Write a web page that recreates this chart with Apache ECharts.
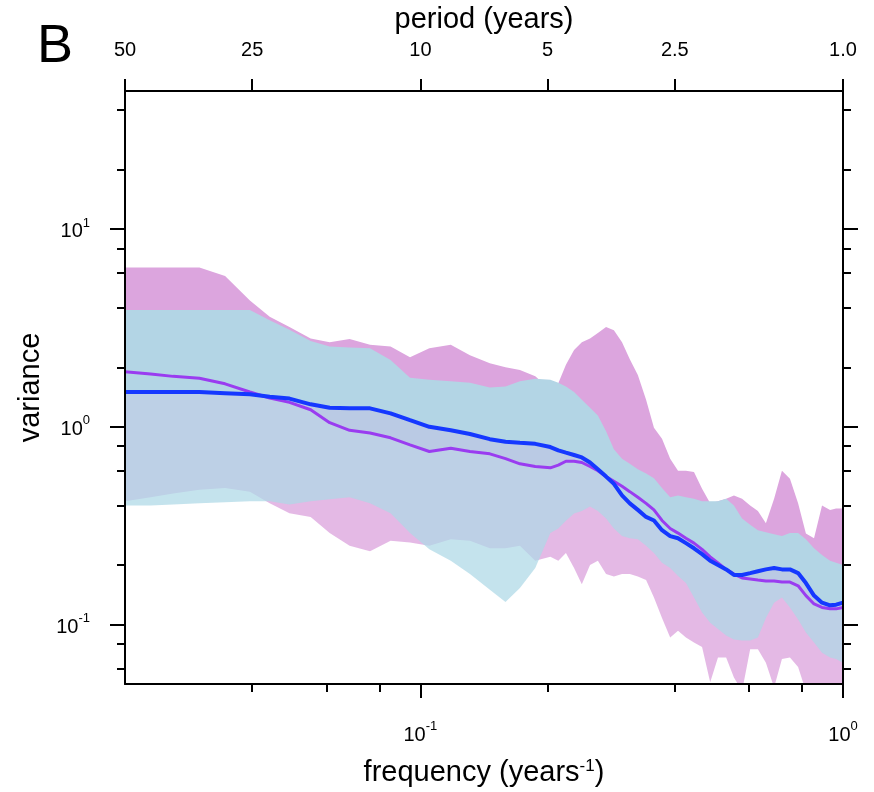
<!DOCTYPE html>
<html><head><meta charset="utf-8">
<script src="https://cdn.jsdelivr.net/npm/echarts@6/dist/echarts.min.js"></script>
<style>html,body{margin:0;padding:0;background:#fff}#c{width:874px;height:792px}</style>
</head><body><div id="c"></div>
<script>
// frequency (years^-1)
const freq = [0.02, 0.023, 0.026, 0.03, 0.0345, 0.0395, 0.044, 0.049, 0.055, 0.061, 0.068, 0.076, 0.085, 0.0945, 0.105, 0.118, 0.131, 0.146, 0.159, 0.172, 0.187, 0.203, 0.212, 0.221, 0.231, 0.241, 0.252, 0.263, 0.275, 0.287, 0.300, 0.313, 0.327, 0.342, 0.357, 0.373, 0.390, 0.407, 0.425, 0.444, 0.464, 0.485, 0.506, 0.529, 0.552, 0.577, 0.603, 0.629, 0.657, 0.687, 0.717, 0.749, 0.783, 0.817, 0.854, 0.892, 0.932, 0.963, 1.0];
// magenta ensemble
const pinkUpper = [6.4, 6.4, 6.4, 6.4, 5.8, 4.35, 3.6, 3.2, 2.8, 2.68, 2.78, 2.6, 2.55, 2.25, 2.5, 2.6, 2.3, 2.1, 2.0, 1.94, 1.8, 1.54, 1.66, 2.06, 2.45, 2.68, 2.8, 2.98, 3.2, 3.08, 2.68, 2.2, 1.83, 1.37, 0.99, 0.87, 0.69, 0.6, 0.6, 0.59, 0.486, 0.41, 0.42, 0.433, 0.45, 0.433, 0.4, 0.375, 0.325, 0.433, 0.6, 0.546, 0.41, 0.289, 0.273, 0.4, 0.38, 0.386, 0.386];
const pinkMean = [1.9, 1.85, 1.8, 1.76, 1.65, 1.5, 1.4, 1.33, 1.22, 1.05, 0.96, 0.93, 0.88, 0.81, 0.75, 0.78, 0.75, 0.73, 0.69, 0.65, 0.63, 0.62, 0.64, 0.67, 0.67, 0.66, 0.63, 0.6, 0.56, 0.53, 0.5, 0.47, 0.44, 0.41, 0.38, 0.336, 0.306, 0.29, 0.273, 0.258, 0.24, 0.22, 0.205, 0.19, 0.18, 0.172, 0.17, 0.168, 0.166, 0.166, 0.164, 0.164, 0.157, 0.14, 0.127, 0.122, 0.12, 0.12, 0.122];
const pinkLower = [0.42, 0.44, 0.46, 0.48, 0.49, 0.47, 0.41, 0.365, 0.35, 0.29, 0.25, 0.235, 0.265, 0.26, 0.25, 0.27, 0.265, 0.243, 0.243, 0.25, 0.21, 0.22, 0.21, 0.23, 0.193, 0.16, 0.2, 0.21, 0.18, 0.175, 0.18, 0.18, 0.175, 0.168, 0.137, 0.108, 0.086, 0.093, 0.086, 0.081, 0.077, 0.051, 0.068, 0.068, 0.054, 0.046, 0.075, 0.075, 0.064, 0.048, 0.067, 0.068, 0.061, 0.046, 0.046, 0.048, 0.048, 0.046, 0.046];
// blue ensemble
const blueUpper = [3.9, 3.9, 3.9, 3.9, 3.9, 3.9, 3.46, 3.1, 2.72, 2.55, 2.52, 2.5, 2.18, 1.77, 1.73, 1.7, 1.67, 1.58, 1.6, 1.7, 1.75, 1.73, 1.67, 1.6, 1.5, 1.37, 1.25, 1.14, 0.95, 0.77, 0.69, 0.65, 0.61, 0.58, 0.55, 0.49, 0.44, 0.45, 0.44, 0.433, 0.42, 0.42, 0.42, 0.433, 0.4, 0.344, 0.32, 0.3, 0.293, 0.286, 0.28, 0.29, 0.29, 0.27, 0.243, 0.225, 0.21, 0.205, 0.2];
const blueMean = [1.5, 1.5, 1.5, 1.5, 1.48, 1.46, 1.42, 1.39, 1.3, 1.25, 1.24, 1.24, 1.17, 1.08, 1.0, 0.96, 0.92, 0.866, 0.84, 0.83, 0.82, 0.79, 0.76, 0.74, 0.72, 0.7, 0.66, 0.61, 0.56, 0.515, 0.45, 0.41, 0.38, 0.35, 0.336, 0.3, 0.28, 0.273, 0.258, 0.243, 0.227, 0.21, 0.2, 0.19, 0.178, 0.178, 0.182, 0.186, 0.19, 0.193, 0.19, 0.19, 0.182, 0.162, 0.14, 0.129, 0.125, 0.126, 0.129];
const blueLower = [0.4, 0.4, 0.405, 0.41, 0.415, 0.42, 0.42, 0.405, 0.42, 0.43, 0.44, 0.41, 0.365, 0.29, 0.24, 0.21, 0.18, 0.15, 0.13, 0.153, 0.193, 0.29, 0.306, 0.335, 0.364, 0.375, 0.395, 0.375, 0.344, 0.306, 0.28, 0.273, 0.27, 0.25, 0.23, 0.205, 0.193, 0.176, 0.162, 0.137, 0.115, 0.102, 0.095, 0.088, 0.084, 0.083, 0.083, 0.086, 0.108, 0.129, 0.137, 0.122, 0.106, 0.091, 0.081, 0.072, 0.068, 0.067, 0.064];
// ticks
const periodTicks = [0.02, 0.04, 0.1, 0.2, 0.4, 1.0];
const periodLabels = ['50', '25', '10', '5', '2.5', '1.0'];
const xMajor = [0.1, 1];
const xMinor = [0.04, 0.06, 0.08, 0.2, 0.4, 0.6, 0.8];
const yMajor = [0.1, 1, 10];
const yMinor = [0.06, 0.08, 0.2, 0.4, 0.6, 0.8, 2, 4, 6, 8, 20, 40];

const FONT = '"Liberation Sans", Arial, Helvetica, sans-serif';
const chart = echarts.init(document.getElementById('c'), null, {renderer: 'canvas'});

function closestLabel(v) {
  let bi = 0, bd = Infinity;
  periodTicks.forEach((t, i) => { const d = Math.abs(Math.log(t) - Math.log(v)); if (d < bd) { bd = d; bi = i; } });
  return periodLabels[bi];
}
function powLabel(v) {
  const e = Math.round(Math.log10(v));
  return '{b|10}{s|' + e + '}';
}
const powRich = {
  b: {fontSize: 20, fontFamily: FONT, color: '#000', lineHeight: 25, verticalAlign: 'bottom'},
  s: {fontSize: 13, fontFamily: FONT, color: '#000', lineHeight: 13, verticalAlign: 'top'}
};
function band(upper, lower, color, z) {
  return {
    type: 'custom', xAxisIndex: 0, yAxisIndex: 0, z: z, silent: true,
    data: freq.map((f, i) => [f, upper[i]]),
    encode: {x: 0, y: 1},
    renderItem: function (params, api) {
      if (params.dataIndex !== 0) return null;
      const pts = [];
      for (let i = 0; i < freq.length; i++) pts.push(api.coord([freq[i], upper[i]]));
      for (let i = freq.length - 1; i >= 0; i--) pts.push(api.coord([freq[i], lower[i]]));
      const cs = params.coordSys;
      return {
        type: 'polygon', shape: {points: pts}, style: {fill: color},
        clipPath: {type: 'rect', shape: {x: cs.x, y: cs.y, width: cs.width, height: cs.height}}
      };
    }
  };
}
const tickStyle = {color: '#000', width: 2};
const logX = {type: 'log', logBase: 10, min: 0.02, max: 1, gridIndex: 0, splitLine: {show: false}, z: 10};
const logY = {type: 'log', logBase: 10, min: 0.05, max: 50, gridIndex: 0, splitLine: {show: false}, z: 10};

const option = {
  animation: false,
  backgroundColor: '#fff',
  grid: {left: 125, right: 31, top: 88, bottom: 106, containLabel: false},
  xAxis: [
    Object.assign({}, logX, {
      position: 'bottom',
      axisLine: {show: true, lineStyle: {color: '#000', width: 2}},
      axisTick: {show: true, inside: false, length: 14, lineStyle: tickStyle, customValues: xMajor},
      axisLabel: {show: true, customValues: xMajor, formatter: powLabel, rich: powRich, margin: 36},
      name: 'frequency (years{s|-1})', nameLocation: 'middle', nameGap: 74,
      nameTextStyle: {fontSize: 29, fontFamily: FONT, color: '#000',
        rich: {s: {fontSize: 17, fontFamily: FONT, color: '#000', verticalAlign: 'top', lineHeight: 17}}}
    }),
    Object.assign({}, logX, {
      position: 'bottom',
      axisLine: {show: false},
      axisTick: {show: true, inside: false, length: 8, lineStyle: tickStyle, customValues: xMinor},
      axisLabel: {show: false}
    }),
    Object.assign({}, logX, {
      position: 'top',
      axisLine: {show: true, lineStyle: {color: '#000', width: 2}},
      axisTick: {show: true, inside: false, length: 12, lineStyle: tickStyle, customValues: periodTicks},
      axisLabel: {show: true, customValues: periodTicks, formatter: closestLabel, margin: 31,
        fontSize: 20, fontFamily: FONT, color: '#000'},
      name: 'period (years)', nameLocation: 'middle', nameGap: 57,
      nameTextStyle: {fontSize: 29, fontFamily: FONT, color: '#000'}
    })
  ],
  yAxis: [
    Object.assign({}, logY, {
      position: 'left',
      axisLine: {show: true, lineStyle: {color: '#000', width: 2}},
      axisTick: {show: true, inside: false, length: 15, lineStyle: tickStyle, customValues: yMajor},
      axisLabel: {show: true, customValues: yMajor, formatter: powLabel, rich: powRich, margin: 35},
      name: 'variance', nameLocation: 'middle', nameGap: 78,
      nameTextStyle: {fontSize: 29, fontFamily: FONT, color: '#000'}
    }),
    Object.assign({}, logY, {
      position: 'left',
      axisLine: {show: false},
      axisTick: {show: true, inside: false, length: 8, lineStyle: tickStyle, customValues: yMinor},
      axisLabel: {show: false}
    }),
    Object.assign({}, logY, {
      position: 'right',
      axisLine: {show: true, lineStyle: {color: '#000', width: 2}},
      axisTick: {show: true, inside: false, length: 15, lineStyle: tickStyle, customValues: yMajor},
      axisLabel: {show: false}
    }),
    Object.assign({}, logY, {
      position: 'right',
      axisLine: {show: false},
      axisTick: {show: true, inside: false, length: 8, lineStyle: tickStyle, customValues: yMinor},
      axisLabel: {show: false}
    })
  ],
  graphic: [{type: 'text', left: 37, top: 20, style: {text: 'B', fontSize: 54, fontFamily: FONT, fill: '#000'}}],
  series: [
    band(pinkUpper, pinkMean, '#dca5de', 1),
    band(pinkMean, pinkLower, 'rgba(220,165,222,0.78)', 1),
    band(blueUpper, blueMean, '#b3d5e5', 2),
    band(blueMean, blueLower, 'rgba(173,216,230,0.72)', 2),
    {type: 'line', xAxisIndex: 0, yAxisIndex: 0, z: 4, showSymbol: false, silent: true,
      data: freq.map((f, i) => [f, pinkMean[i]]), lineStyle: {color: '#9a3cf0', width: 3}},
    {type: 'line', xAxisIndex: 0, yAxisIndex: 0, z: 5, showSymbol: false, silent: true,
      data: freq.map((f, i) => [f, blueMean[i]]), lineStyle: {color: '#1538ff', width: 4}}
  ]
};
chart.setOption(option);
</script>
</body></html>
